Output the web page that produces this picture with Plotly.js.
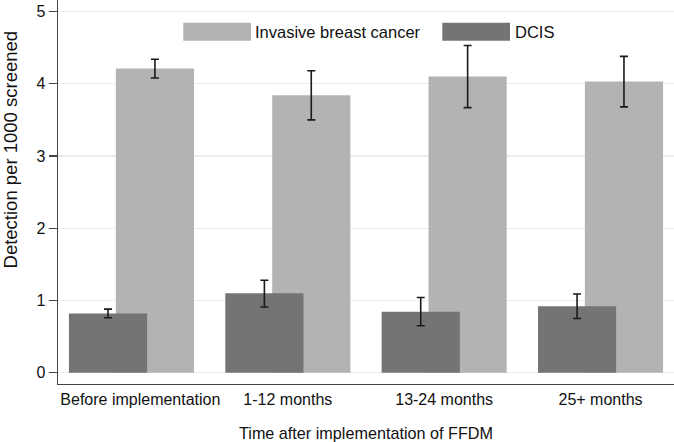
<!DOCTYPE html>
<html><head><meta charset="utf-8">
<script src="https://cdn.plot.ly/plotly-3.0.1.min.js"></script>
<style>html,body{margin:0;padding:0;background:#fff}#chart{width:674px;height:442px}</style>
</head><body><div id="chart"></div>
<script>
const categories = ["Before implementation", "1-12 months", "13-24 months", "25+ months"];
const seriesNames = ["Invasive breast cancer", "DCIS"];
const seriesColors = ["#b3b3b3", "#747474"];
const invasive = [4.21, 3.84, 4.10, 4.03];
const invasiveLow = [4.08, 3.50, 3.67, 3.68];
const invasiveHigh = [4.34, 4.18, 4.53, 4.38];
const dcis = [0.82, 1.10, 0.845, 0.92];
const dcisLow = [0.76, 0.91, 0.65, 0.75];
const dcisHigh = [0.88, 1.28, 1.04, 1.09];
const yTicks = [0, 1, 2, 3, 4, 5];
const xTitle = "Time after implementation of FFDM";
const yTitle = "Detection per 1000 screened";

const FONT = "Liberation Sans, Arial, Helvetica, sans-serif";

function errBar(vals, lo, hi) {
  return {
    type: "data", symmetric: false,
    array: vals.map((v, i) => hi[i] - v),
    arrayminus: vals.map((v, i) => v - lo[i]),
    color: "#1a1a1a", thickness: 1.6, width: 4
  };
}

const traces = [
  {
    type: "bar", name: seriesNames[0], x: categories, y: invasive,
    offset: -0.10, width: 0.50,
    marker: {color: seriesColors[0], line: {width: 0}},
    error_y: errBar(invasive, invasiveLow, invasiveHigh),
    hoverinfo: "skip"
  },
  {
    type: "bar", name: seriesNames[1], x: categories, y: dcis,
    offset: -0.40, width: 0.50,
    marker: {color: seriesColors[1], line: {width: 0}},
    error_y: errBar(dcis, dcisLow, dcisHigh),
    hoverinfo: "skip"
  }
];

const tickText = categories.map((c, i) => i === 0 ? "\u00a0\u00a0\u00a0\u00a0" + c : c);

// legend built from series names/colours (large Stata-style keys)
const legendBoxes = [[0.2034, 0.3133], [0.6239, 0.7338]];
const legendText = [0.3160, 0.7392];
const shapes = seriesNames.map((n, i) => ({
  type: "rect", xref: "paper", yref: "paper",
  x0: legendBoxes[i][0], x1: legendBoxes[i][1], y0: 0.894, y1: 0.941,
  fillcolor: seriesColors[i], line: {width: 0}
}));
const annotations = seriesNames.map((n, i) => ({
  xref: "paper", yref: "paper", x: legendText[i], y: 0.9174,
  xanchor: "left", yanchor: "middle", showarrow: false, text: n,
  font: {family: FONT, size: 16.5, color: "#111"}
}));
// y-axis title, placed where the reference has it
annotations.push({
  xref: "paper", yref: "paper", x: -0.0755, y: 0.612,
  xanchor: "center", yanchor: "middle", textangle: -90, showarrow: false,
  borderpad: 0,
  text: yTitle, font: {family: FONT, size: 18.5, color: "#111"}
});

const layout = {
  width: 674, height: 442,
  margin: {l: 58, r: 0, t: 0, b: 58},
  paper_bgcolor: "#fff", plot_bgcolor: "#fff",
  barmode: "overlay",
  showlegend: false,
  font: {family: FONT, size: 16, color: "#111"},
  xaxis: {
    type: "category", range: [-0.47, 3.47],
    tickvals: categories, ticktext: tickText,
    showline: true, linecolor: "#444", linewidth: 1.3,
    ticks: "", showgrid: false, zeroline: false,
    tickfont: {family: FONT, size: 16, color: "#111"},
    title: {text: xTitle, font: {family: FONT, size: 16.2, color: "#111"}}
  },
  yaxis: {
    range: [-0.157, 5.16], tickvals: yTicks, ticktext: yTicks.map(String),
    showline: true, linecolor: "#444", linewidth: 1.3,
    ticks: "outside", ticklen: 8, tickwidth: 1.2, tickcolor: "#444",
    showgrid: true, gridcolor: "#ececec", gridwidth: 1.2, zeroline: false,
    tickfont: {family: FONT, size: 16, color: "#111"}
  },
  shapes: shapes,
  annotations: annotations
};

Plotly.newPlot("chart", traces, layout, {displayModeBar: false, staticPlot: true});
</script>
</body></html>
